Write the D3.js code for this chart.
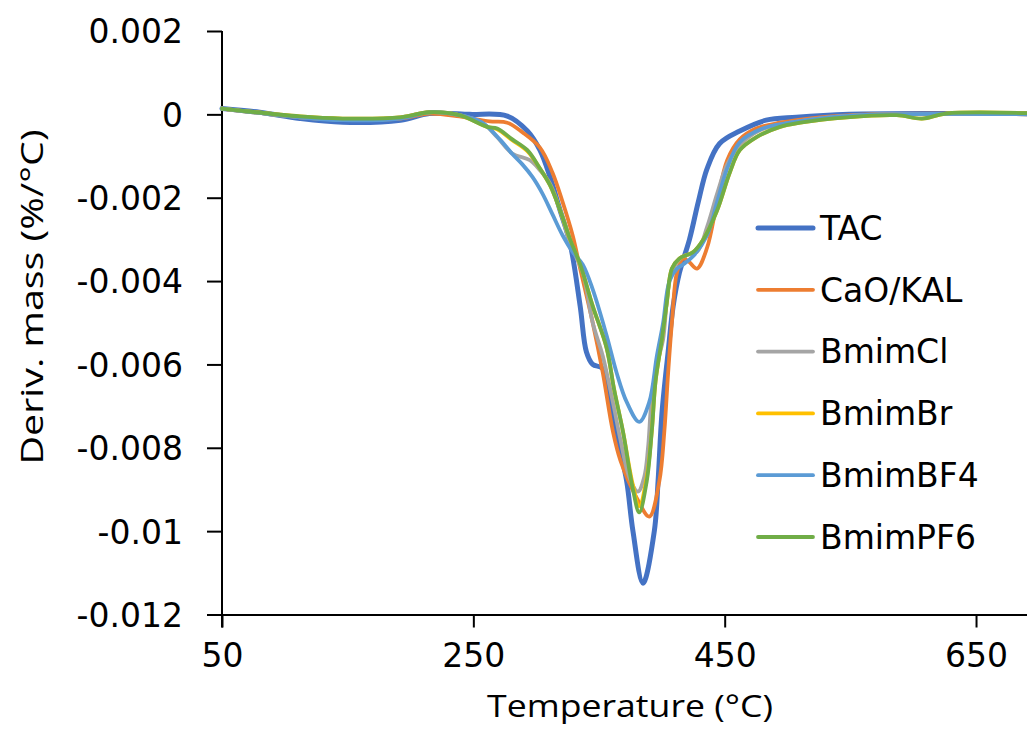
<!DOCTYPE html>
<html lang="en">
<head>
  <meta charset="UTF-8" />
  <title>DTG curves</title>
  <script src="https://cdn.jsdelivr.net/npm/d3@7"></script>
  <style>
    body { margin: 0; background: #fff; }
    svg { display: block; }
    .tick text { font-family: "DejaVu Sans", Verdana, sans-serif; font-size: 33px; fill: #000; }
    .axis-title { font-family: "Open Sans", sans-serif; font-size: 31px; fill: #000; }
    .legend text { font-family: "DejaVu Sans", Verdana, sans-serif; font-size: 33px; fill: #000; }
  </style>
</head>
<body>
<svg width="1027" height="729"></svg>
<script>
  // temperatures (°C) and derivative mass (%/°C)
  const seriesNames = ["TAC", "CaO/KAL", "BmimCl", "BmimBr", "BmimBF4", "BmimPF6"];
  const seriesColors = ["#4472C4", "#ED7D31", "#A5A5A5", "#FFC000", "#5B9BD5", "#70AD47"];
  const seriesWidths = [5, 3.8, 3.8, 3.8, 3.8, 3.8];

  const tacT = [50, 80, 112, 146, 192, 215, 247, 277, 293, 303, 311, 319, 327, 335, 340, 345, 353, 360, 365, 372, 377, 385, 394, 397, 400, 405, 409, 414, 422, 429, 436, 446, 462, 483, 507, 549, 629, 700];
  const tacV = [0.00014, 0.00005, -0.0001, -0.00019, -0.00014, 0.00002, 0, -0.00004, -0.0004, -0.00086, -0.0015, -0.0023, -0.0031, -0.0046, -0.0057, -0.006, -0.0061, -0.007, -0.0078, -0.0088, -0.01, -0.01125, -0.01, -0.0088, -0.0072, -0.0057, -0.0046, -0.0038, -0.003, -0.0021, -0.0013, -0.0007, -0.0004, -0.00014, -0.00007, 0, 0.00002, 0.00002];

  const caoT = [50, 112, 146, 192, 215, 239, 263, 277, 289, 303, 313, 321, 329, 335, 345, 353, 361, 367, 380, 390, 398, 402, 405, 408, 412, 417, 422, 428, 436, 444, 452, 462, 475, 494, 526, 565, 700];
  const caoV = [0.00014, -0.00007, -0.00012, -0.0001, 0.00002, -0.00005, -0.00017, -0.0002, -0.00043, -0.0008, -0.0014, -0.0021, -0.0029, -0.0037, -0.005, -0.0062, -0.0076, -0.0083, -0.0092, -0.00965, -0.0088, -0.0076, -0.0062, -0.005, -0.0038, -0.00346, -0.00355, -0.0037, -0.0032, -0.0021, -0.0011, -0.0006, -0.00034, -0.0002, -0.00007, 0, 0];

  const clT = [50, 112, 146, 192, 215, 239, 257, 269, 281, 295, 303, 311, 319, 327, 337, 345, 353, 361, 367, 374, 381, 386, 389, 392, 397, 401, 405, 409, 417, 428, 436, 444, 452, 462, 478, 502, 533, 573, 700];
  const clV = [0.00014, -0.00007, -0.00012, -0.00007, 0.00005, -0.00002, -0.0002, -0.00055, -0.00094, -0.0011, -0.00134, -0.00166, -0.0023, -0.0031, -0.0038, -0.005, -0.0058, -0.0069, -0.0078, -0.0087, -0.00905, -0.0087, -0.008, -0.0068, -0.0059, -0.0054, -0.0042, -0.0037, -0.0034, -0.0033, -0.0027, -0.0019, -0.0012, -0.00074, -0.00038, -0.0002, -0.00007, 0, 0];

  const brT = [50, 112, 146, 192, 215, 239, 261, 269, 281, 293, 303, 311, 319, 327, 335, 345, 356, 362, 369, 377, 382, 388, 392, 395, 400, 404, 408, 414, 425, 433, 444, 454, 462, 475, 494, 510, 547, 587, 607, 626, 700];
  const brV = [0.00014, -0.00005, -0.0001, -0.00007, 0.00005, -0.00002, -0.0003, -0.00036, -0.00062, -0.00088, -0.0013, -0.0017, -0.0023, -0.003, -0.0036, -0.0046, -0.0056, -0.0066, -0.0076, -0.0089, -0.0094, -0.0087, -0.0076, -0.0064, -0.0054, -0.0045, -0.0037, -0.00346, -0.0033, -0.003, -0.0023, -0.0014, -0.00086, -0.00055, -0.0003, -0.0002, -0.00007, -0.00002, -0.0001, 0.00002, 0.00002];

  const bf4T = [50, 112, 146, 192, 215, 239, 257, 271, 281, 289, 297, 305, 313, 321, 329, 337, 345, 356, 364, 372, 382, 390, 396, 401, 406, 412, 417, 425, 436, 444, 452, 462, 480, 502, 533, 573, 700];
  const bf4V = [0.00014, -0.00007, -0.00014, -0.0001, 0.00005, -0.00002, -0.0002, -0.0006, -0.00095, -0.0012, -0.0015, -0.0019, -0.0024, -0.0029, -0.0033, -0.0036, -0.0042, -0.0053, -0.0062, -0.0069, -0.00738, -0.0069, -0.0058, -0.005, -0.004, -0.0037, -0.0036, -0.0034, -0.0029, -0.0021, -0.0013, -0.00067, -0.00034, -0.0002, -0.00007, 0, 0];

  const pf6T = [50, 112, 146, 192, 215, 239, 261, 269, 281, 293, 303, 311, 319, 327, 335, 345, 356, 362, 369, 377, 382, 388, 392, 395, 400, 404, 408, 414, 425, 433, 444, 454, 462, 475, 494, 510, 547, 587, 607, 626, 700];
  const pf6V = [0.00014, -0.00005, -0.0001, -0.00007, 0.00005, -0.00002, -0.0003, -0.00034, -0.0006, -0.00086, -0.0013, -0.0017, -0.0023, -0.003, -0.0036, -0.0046, -0.0056, -0.0066, -0.0076, -0.009, -0.00955, -0.0088, -0.0076, -0.0064, -0.0054, -0.0045, -0.0037, -0.00346, -0.0033, -0.003, -0.0023, -0.0014, -0.00086, -0.00055, -0.0003, -0.0002, -0.00007, -0.00002, -0.0001, 0.00002, 0.00002];

  const xTicks = [50, 250, 450, 650];
  const yTicks = [0.002, 0, -0.002, -0.004, -0.006, -0.008, -0.01, -0.012];

  const temps = [tacT, caoT, clT, brT, bf4T, pf6T];
  const values = [tacV, caoV, clV, brV, bf4V, pf6V];

  const svg = d3.select("svg");

  const x = d3.scaleLinear().domain([50, 750]).range([222, 1101.7]);
  const y = d3.scaleLinear().domain([-0.012, 0.002]).range([614.5, 31]);

  // axes
  const xAxis = svg.append("g")
    .attr("transform", `translate(0,${y(-0.012)})`)
    .call(d3.axisBottom(x).tickValues(xTicks).tickSize(13).tickSizeOuter(0).tickPadding(16).tickFormat(d3.format("d")));

  const yAxis = svg.append("g")
    .attr("transform", `translate(${x(50)},0)`)
    .call(d3.axisLeft(y).tickValues(yTicks).tickSize(15).tickSizeOuter(0).tickPadding(24)
      .tickFormat(d => d === 0 ? "0" : String(+d.toFixed(3))));

  // y axis line runs a bit below the x axis, like the original
  yAxis.select(".domain").attr("d", `M0,${y(0.002)}V${y(-0.012) + 13}`);

  [xAxis, yAxis].forEach(g => {
    g.selectAll(".domain, .tick line").attr("stroke", "#000").attr("stroke-width", 2);
  });
  xAxis.selectAll(".tick text").attr("dy", "0.71em");
  yAxis.selectAll(".tick text").attr("dy", "0.36em");

  // curves
  const line = d3.line()
    .x(d => x(d[0]))
    .y(d => y(d[1]))
    .curve(d3.curveCatmullRom.alpha(0.5));

  const plot = svg.append("g");
  seriesNames.forEach((name, i) => {
    const pts = temps[i].map((t, k) => [t, values[i][k]]);
    plot.append("path")
      .datum(pts)
      .attr("fill", "none")
      .attr("stroke", seriesColors[i])
      .attr("stroke-width", seriesWidths[i])
      .attr("stroke-linejoin", "round")
      .attr("stroke-linecap", "round")
      .attr("d", line);
  });

  // legend
  const legend = svg.append("g").attr("class", "legend");
  seriesNames.forEach((name, i) => {
    const ly = 228 + i * 61.8;
    legend.append("line")
      .attr("x1", 758).attr("x2", 813)
      .attr("y1", ly).attr("y2", ly)
      .attr("stroke", seriesColors[i])
      .attr("stroke-width", seriesWidths[i])
      .attr("stroke-linecap", "round");
    legend.append("text")
      .attr("x", 820).attr("y", ly)
      .attr("dy", "0.36em")
      .text(name);
  });

  // axis titles
  svg.append("text")
    .attr("class", "axis-title")
    .attr("x", 630).attr("y", 717)
    .attr("text-anchor", "middle")
    .attr("textLength", 286)
    .attr("lengthAdjust", "spacingAndGlyphs")
    .text("Temperature (°C)");

  svg.append("text")
    .attr("class", "axis-title")
    .attr("transform", "translate(43,297) rotate(-90)")
    .attr("text-anchor", "middle")
    .attr("textLength", 335)
    .attr("lengthAdjust", "spacingAndGlyphs")
    .text("Deriv. mass (%/°C)");
</script>
</body>
</html>
